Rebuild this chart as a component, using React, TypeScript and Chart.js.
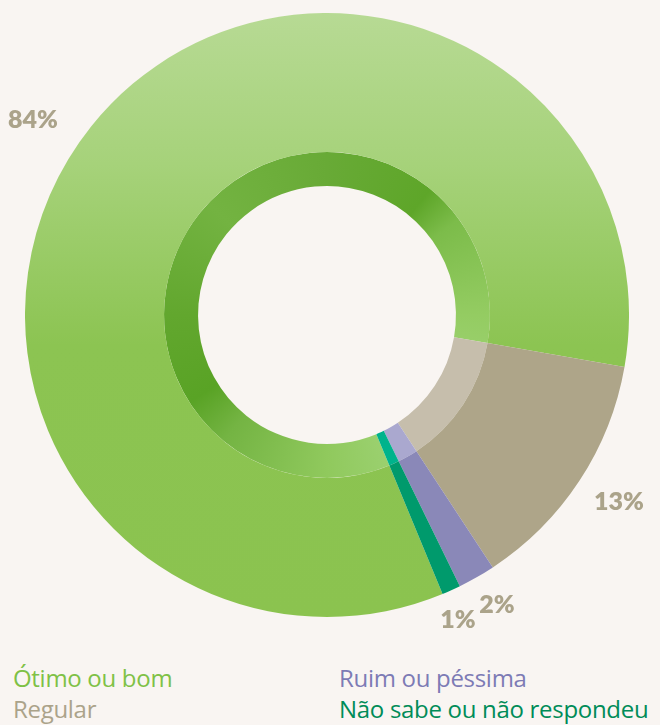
import React, { useEffect, useRef } from "react";
import { Chart, registerables } from "chart.js";

Chart.register(...registerables);

const categories = ["Ótimo ou bom", "Regular", "Ruim ou péssima", "Não sabe ou não respondeu"];
const values = [84, 13, 2, 1];
const valueLabels = ["84%", "13%", "2%", "1%"];
const legendColors = ["#7fc146", "#aba38a", "#7d7bb5", "#008c58"];
const outerColors = ["#8cc452", "#aea589", "#8a88b8", "#009a6c"];
const innerColors = ["#6fb03c", "#c6beac", "#aaa8cf", "#00b38c"];

const labelPos = [
  { left: 33, top: 118 },
  { left: 619, top: 500 },
  { left: 497, top: 603 },
  { left: 458, top: 618 },
];

const BG = "#f9f5f2";

export default function App() {
  const ref = useRef<HTMLCanvasElement | null>(null);

  useEffect(() => {
    if (!ref.current) return;
    const outerBg = (ctx: any) => {
      const i = ctx.dataIndex;
      const chart = ctx.chart;
      const area = chart.chartArea;
      if (i === 0 && area) {
        const g = chart.ctx.createLinearGradient(0, area.top, 0, area.bottom);
        g.addColorStop(0, "#b7da94");
        g.addColorStop(0.25, "#a6d27a");
        g.addColorStop(0.55, "#8cc452");
        g.addColorStop(1, "#8bc34f");
        return g;
      }
      return outerColors[i];
    };
    const innerBg = (ctx: any) => {
      const i = ctx.dataIndex;
      const chart = ctx.chart;
      const area = chart.chartArea;
      if (i === 0 && area) {
        const cx = (area.left + area.right) / 2;
        const cy = (area.top + area.bottom) / 2;
        const c2d: any = chart.ctx;
        if (typeof c2d.createConicGradient === "function") {
          const g = c2d.createConicGradient(0, cx, cy);
          g.addColorStop(0, "#94cc62");
          g.addColorStop(0.125, "#a5d780");
          g.addColorStop(0.25, "#90c95d");
          g.addColorStop(0.36, "#74b443");
          g.addColorStop(0.41, "#59a325");
          g.addColorStop(0.5, "#62a72e");
          g.addColorStop(0.62, "#73b341");
          g.addColorStop(0.75, "#68aa36");
          g.addColorStop(0.86, "#5ea629");
          g.addColorStop(0.9, "#7cbc4a");
          g.addColorStop(1, "#94cc62");
          return g;
        }
        return innerColors[0];
      }
      return innerColors[i];
    };
    const chart = new Chart(ref.current, {
      type: "doughnut",
      data: {
        labels: categories,
        datasets: [
          {
            data: values,
            backgroundColor: outerBg,
            borderWidth: 0,
            weight: 139,
          },
          {
            data: values,
            backgroundColor: innerBg,
            borderWidth: 0,
            weight: 34,
          },
        ],
      },
      options: {
        responsive: false,
        animation: false,
        rotation: 157.5,
        cutout: "42.7%",
        layout: { padding: 0 },
        plugins: {
          legend: { display: false },
          tooltip: { enabled: false },
        },
      },
    });
    return () => chart.destroy();
  }, []);

  return (
    <div
      style={{
        position: "absolute",
        left: 0,
        top: 0,
        width: 660,
        height: 725,
        background: BG,
        overflow: "hidden",
        fontFamily: "'Open Sans', sans-serif",
      }}
    >
      <div style={{ position: "absolute", left: 25, top: 13, width: 604, height: 604 }}>
        <canvas ref={ref} width={604} height={604} />
      </div>
      {valueLabels.map((t, i) => (
        <div
          key={t}
          style={{
            position: "absolute",
            left: labelPos[i].left,
            top: labelPos[i].top,
            transform: "translate(-50%, -50%)",
            color: "#aba38a",
            fontWeight: 800,
            fontSize: 25,
            fontFamily: "Lato, sans-serif",
            whiteSpace: "nowrap",
          }}
        >
          {t}
        </div>
      ))}
      {categories.map((c, i) => (
        <div
          key={c}
          style={{
            position: "absolute",
            left: i < 2 ? 13 : 339,
            top: i % 2 === 0 ? 663 : 694,
            color: legendColors[i],
            fontSize: 24,
            fontWeight: 500,
            lineHeight: "30px",
            letterSpacing: "-0.3px",
            whiteSpace: "nowrap",
          }}
        >
          {c}
        </div>
      ))}
    </div>
  );
}
